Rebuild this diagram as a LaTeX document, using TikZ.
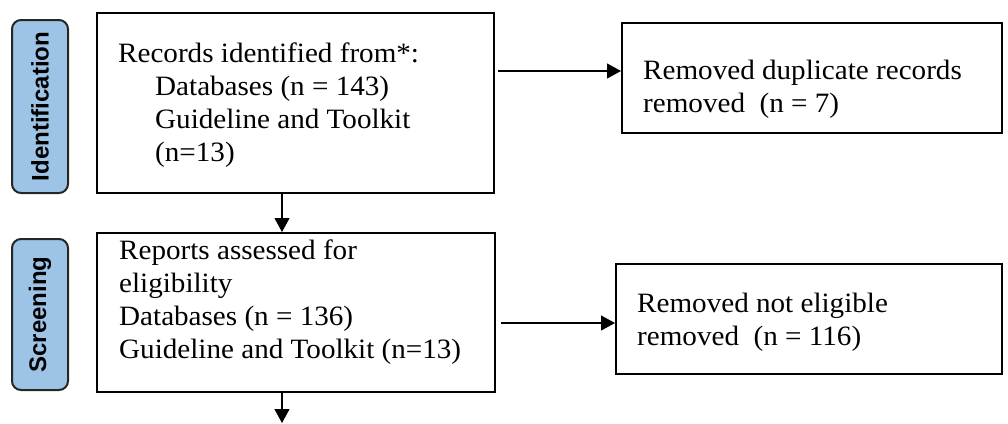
\documentclass[tikz,border=0pt]{standalone}
\usepackage{fontspec}
\setmainfont[FakeStretch=1.04]{Liberation Serif}
\newfontfamily\stagefont{Liberation Sans}
\usetikzlibrary{arrows.meta}
\definecolor{stageblue}{RGB}{157,195,230}
\definecolor{stageline}{RGB}{38,38,38}

\tikzset{
  stage/.style={draw=stageline, line width=2pt, rounded corners=9pt, fill=stageblue,
    inner sep=0pt, font=\stagefont\bfseries\fontsize{24}{28}\selectfont},
  flowbox/.style={draw=black, line width=2pt, inner sep=0pt, fill=white},
  boxtext/.style={anchor=base west, inner sep=0pt, font=\fontsize{28}{33}\selectfont},
  link/.style={line width=1.1pt, -{Triangle[length=14pt,width=15pt]}}
}

\begin{document}
\begin{tikzpicture}[x=1pt, y=-1pt]
  \useasboundingbox (0,0) rectangle (1008,423);

  % phase labels
  \node[stage, minimum width=56pt, minimum height=173pt] (ident) at (40,106.5)
    {\rotatebox{90}{Identification}};
  \node[stage, minimum width=56pt, minimum height=151pt] (screen) at (40,314.5)
    {\rotatebox{90}{Screening}};

  % flow boxes
  \node[flowbox, minimum width=397pt, minimum height=180pt] (records) at (295.5,103) {};
  \node[flowbox, minimum width=398pt, minimum height=159pt] (reports) at (296,312.5) {};
  \node[flowbox, minimum width=380pt, minimum height=110pt] (dups) at (812,78) {};
  \node[flowbox, minimum width=386pt, minimum height=110pt] (inelig) at (809,319) {};

  % box contents
  \node[boxtext] (recordsT) at (118,62.5) {\begin{tabular}[t]{@{}l@{}}
    Records identified from*:\\
    \hspace*{37pt}Databases (n = 143)\\
    \hspace*{37pt}Guideline and Toolkit\\
    \hspace*{37pt}(n=13)
  \end{tabular}};
  \node[boxtext] (reportsT) at (119,259) {\begin{tabular}[t]{@{}l@{}}
    Reports assessed for\\
    eligibility\\
    Databases (n = 136)\\
    Guideline and Toolkit (n=13)
  \end{tabular}};
  \node[boxtext] (dupsT) at (643,79) {\begin{tabular}[t]{@{}l@{}}
    Removed duplicate records\\
    removed~ (n = 7)
  \end{tabular}};
  \node[boxtext] (inaligT) at (637,312) {\begin{tabular}[t]{@{}l@{}}
    Removed not eligible\\
    removed~ (n = 116)
  \end{tabular}};

  % connectors
  \coordinate (spine) at (282,0);
  \coordinate (row1) at (0,71);
  \coordinate (row2) at (0,323);
  \coordinate (exit) at (282,423);
  \draw[link, shorten <=3pt] (records.east |- row1) -- (dups.west |- row1);
  \draw[link, shorten <=5pt] (reports.east |- row2) -- (inelig.west |- row2);
  \draw[link] (records.south -| spine) -- (reports.north -| spine);
  \draw[link] (reports.south -| spine) -- (exit);
\end{tikzpicture}
\end{document}
